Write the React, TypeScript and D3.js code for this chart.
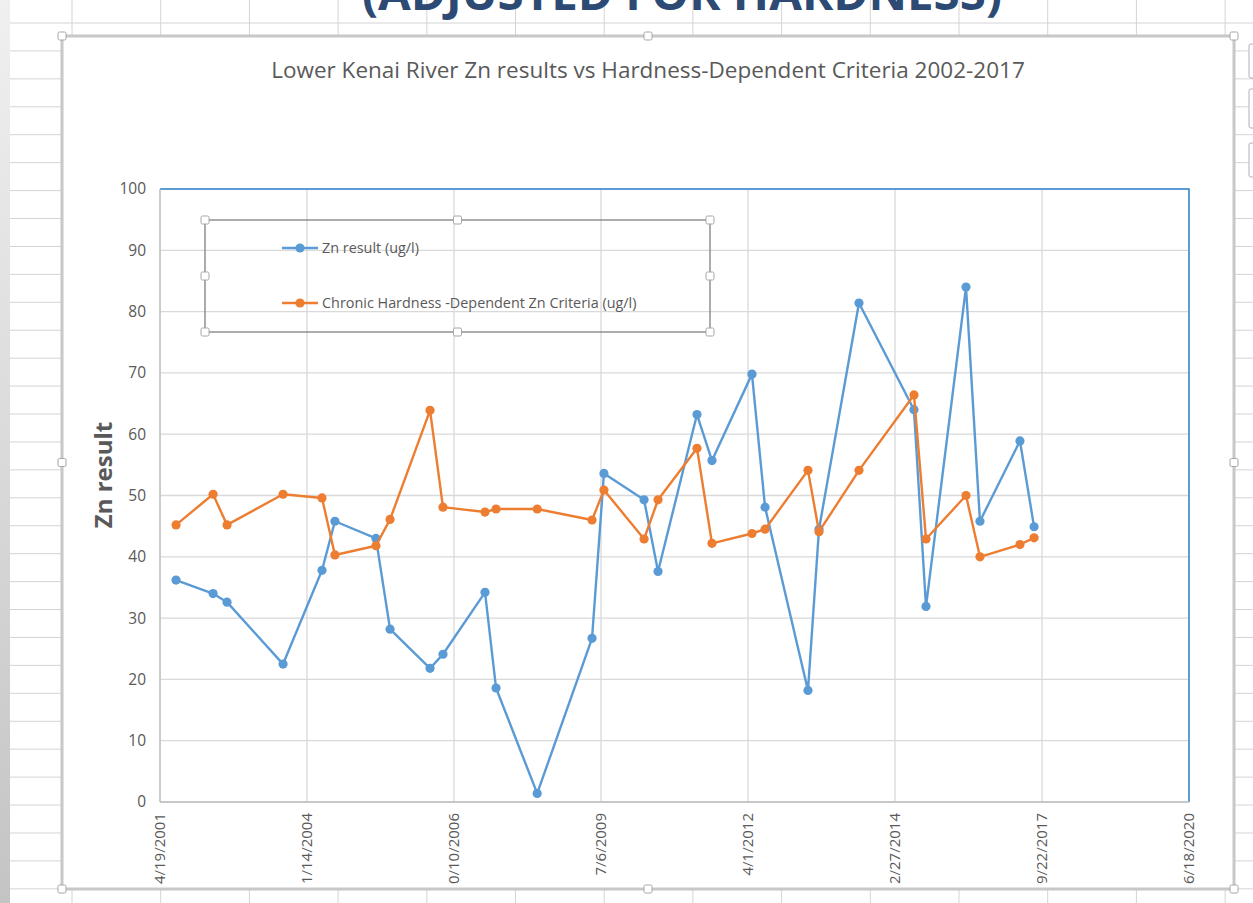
import * as d3 from 'd3';

// sample dates (shared by both series)
const sampleDates = [
  '2001-08-06', '2002-04-15', '2002-07-19', '2003-08-04', '2004-04-25', '2004-07-22',
  '2005-04-27', '2005-08-01', '2006-04-30', '2006-07-27', '2007-05-09', '2007-07-23',
  '2008-04-28', '2009-05-06', '2009-07-26', '2010-04-25', '2010-07-29', '2011-04-20',
  '2011-07-31', '2012-04-28', '2012-07-26', '2013-05-14', '2013-07-28', '2014-04-26',
  '2015-05-05', '2015-07-26', '2016-04-23', '2016-07-27', '2017-04-25', '2017-07-30',
];

const znResult = [
  36.2, 34, 32.6, 22.5, 37.8, 45.8, 43, 28.2, 21.8, 24.1, 34.2, 18.6, 1.4, 26.7, 53.6,
  49.3, 37.6, 63.2, 55.7, 69.8, 48.1, 18.2, 44.5, 81.4, 64, 31.9, 84, 45.8, 58.9, 44.9,
];

const znCriteria = [
  45.2, 50.2, 45.2, 50.2, 49.6, 40.3, 41.8, 46.1, 63.9, 48.1, 47.3, 47.8, 47.8, 46, 50.9,
  42.9, 49.3, 57.7, 42.2, 43.8, 44.5, 54.1, 44.1, 54.1, 66.4, 42.9, 50, 40, 42, 43.1,
];

const xTickLabels = ['4/19/2001', '1/14/2004', '10/10/2006', '7/6/2009', '4/1/2012', '12/27/2014', '9/22/2017', '6/18/2020'];
const seriesNames = ['Zn result (ug/l)', 'Chronic Hardness -Dependent Zn Criteria (ug/l)'];

const W = 1253;
const H = 903;
const plot = { left: 160, right: 1189, top: 189, bottom: 802 };
const chart = { left: 62, right: 1234, top: 36, bottom: 889 };
const legend = { left: 205, right: 710, top: 220, bottom: 332 };

const BLUE = '#5b9bd5';
const ORANGE = '#ed7d31';
const TEXT = '#595959';
const GRID = '#d9d9d9';
const FONT = "'Open Sans', sans-serif";

const parseIso = d3.timeParse('%Y-%m-%d');
const parseUs = d3.timeParse('%m/%d/%Y');

function Handle({ x, y }: { x: number; y: number }) {
  return <rect x={x - 4} y={y - 4} width={8} height={8} rx={1.5} fill="#fff" stroke="#a6a6a6" strokeWidth={1} />;
}

export default function App() {
  const dates = sampleDates.map(d => parseIso(d)!);
  const tickDates = xTickLabels.map(d => parseUs(d)!);

  const x = d3.scaleTime()
    .domain([tickDates[0], tickDates[tickDates.length - 1]])
    .range([plot.left, plot.right]);
  const y = d3.scaleLinear().domain([0, 100]).range([plot.bottom, plot.top]);
  const yTicks = y.ticks(10);

  const line = d3.line<[Date, number]>()
    .x(d => x(d[0]))
    .y(d => y(d[1]));

  const series = [
    { name: seriesNames[0], color: BLUE, values: znResult },
    { name: seriesNames[1], color: ORANGE, values: znCriteria },
  ];

  // spreadsheet grid behind the chart
  const rows = d3.range(0, 33).map(i => 23 + i * 27.93);
  const cols = d3.range(0, 14).map(i => 72 + i * 88.7);

  const chartMidX = (chart.left + chart.right) / 2;
  const chartMidY = (chart.top + chart.bottom) / 2;
  const legMidX = (legend.left + legend.right) / 2;
  const legMidY = (legend.top + legend.bottom) / 2;

  return (
    <svg width={W} height={H} style={{ position: 'fixed', left: 0, top: 0, background: '#fff' }} fontFamily={FONT}>
      <defs>
        <linearGradient id="strip" x1="0" y1="0" x2="0" y2="1">
          <stop offset="0" stopColor="#f0f0f0" />
          <stop offset="1" stopColor="#c4c4c4" />
        </linearGradient>
        <clipPath id="xlab">
          <rect x={chart.left} y={plot.bottom} width={chart.right - chart.left} height={83} />
        </clipPath>
      </defs>

      {/* sheet grid */}
      <g stroke="#d4d4d4" strokeWidth={1}>
        {rows.map((r, i) => <line key={'r' + i} x1={10} x2={W} y1={r} y2={r} />)}
        {cols.map((c, i) => <line key={'c' + i} x1={c} x2={c} y1={0} y2={H} />)}
      </g>
      <rect x={0} y={0} width={10} height={H} fill="url(#strip)" />

      {/* slide title, cut off at the top */}
      <text x={682} y={10} textAnchor="middle" fontSize={46} fontWeight={700} fill="#2c4a73" textLength={640} lengthAdjust="spacingAndGlyphs">
        (ADJUSTED FOR HARDNESS)
      </text>

      {/* excel side buttons */}
      {[44, 89, 143].map((t, i) => (
        <rect key={i} x={1249} y={t} width={12} height={i === 1 ? 39 : 34} rx={2} fill="#fff" stroke="#b0b0b0" />
      ))}

      {/* chart area */}
      <rect x={chart.left} y={chart.top} width={chart.right - chart.left} height={chart.bottom - chart.top}
        fill="#fff" stroke="#c8c8c8" strokeWidth={3} />

      <text x={chartMidX} y={78} textAnchor="middle" fontSize={22.5} fill={TEXT}>
        Lower Kenai River Zn results vs Hardness-Dependent Criteria 2002-2017
      </text>

      {/* gridlines */}
      <g stroke={GRID} strokeWidth={1.3}>
        {yTicks.map(t => <line key={'gy' + t} x1={plot.left} x2={plot.right} y1={y(t)} y2={y(t)} />)}
        {tickDates.map((t, i) => <line key={'gx' + i} x1={x(t)} x2={x(t)} y1={plot.top} y2={plot.bottom} />)}
      </g>

      {/* plot area border (top/right blue) */}
      <path d={`M${plot.left},${plot.top}H${plot.right}V${plot.bottom}`} fill="none" stroke="#2e86d1" strokeWidth={1.5} />
      <line x1={plot.left} x2={plot.left} y1={plot.top} y2={plot.bottom} stroke="#bfbfbf" strokeWidth={1.3} />
      <line x1={plot.left} x2={plot.right} y1={plot.bottom} y2={plot.bottom} stroke="#bfbfbf" strokeWidth={1.3} />

      {/* y tick labels */}
      <g fontSize={15.5} fill={TEXT} textAnchor="end">
        {yTicks.map(t => (
          <text key={'ty' + t} x={146} y={y(t)} dy="0.35em">{t}</text>
        ))}
      </g>

      {/* x tick labels (the longest ones get clipped, as in the chart) */}
      <g fontSize={15} fill={TEXT} textAnchor="end" clipPath="url(#xlab)">
        {tickDates.map((t, i) => (
          <text key={'tx' + i} x={0} y={0} dy="0.35em"
            transform={`translate(${x(t)},${plot.bottom + 11}) rotate(-90)`}>{xTickLabels[i]}</text>
        ))}
      </g>

      {/* y axis title */}
      <text transform={`translate(112,475) rotate(-90)`} textAnchor="middle"
        fontSize={24} fontWeight={700} fill={TEXT}>Zn result</text>

      {/* series */}
      {series.map(s => {
        const pts = dates.map((d, i) => [d, s.values[i]] as [Date, number]);
        return (
          <g key={s.name}>
            <path d={line(pts) || ''} fill="none" stroke={s.color} strokeWidth={2.4} strokeLinejoin="round" />
            {pts.map((p, i) => <circle key={i} cx={x(p[0])} cy={y(p[1])} r={4.6} fill={s.color} />)}
          </g>
        );
      })}

      {/* legend */}
      <rect x={legend.left} y={legend.top} width={legend.right - legend.left} height={legend.bottom - legend.top}
        fill="none" stroke="#808080" strokeWidth={1.3} />
      {series.map((s, i) => {
        const ly = 248 + i * 55;
        return (
          <g key={'lg' + i}>
            <line x1={282} x2={318} y1={ly} y2={ly} stroke={s.color} strokeWidth={2.4} />
            <circle cx={300} cy={ly} r={4.6} fill={s.color} />
            <text x={322} y={ly} dy="0.35em" fontSize={14.4} fill={TEXT}>{s.name}</text>
          </g>
        );
      })}
      {[
        [legend.left, legend.top], [legMidX, legend.top], [legend.right, legend.top],
        [legend.left, legMidY], [legend.right, legMidY],
        [legend.left, legend.bottom], [legMidX, legend.bottom], [legend.right, legend.bottom],
      ].map(([hx, hy], i) => <Handle key={'lh' + i} x={hx} y={hy} />)}

      {/* chart area handles */}
      {[
        [chart.left, chart.top], [chartMidX, chart.top], [chart.right, chart.top],
        [chart.left, chartMidY], [chart.right, chartMidY],
        [chart.left, chart.bottom], [chartMidX, chart.bottom], [chart.right, chart.bottom],
      ].map(([hx, hy], i) => <Handle key={'ch' + i} x={hx} y={hy} />)}
    </svg>
  );
}
